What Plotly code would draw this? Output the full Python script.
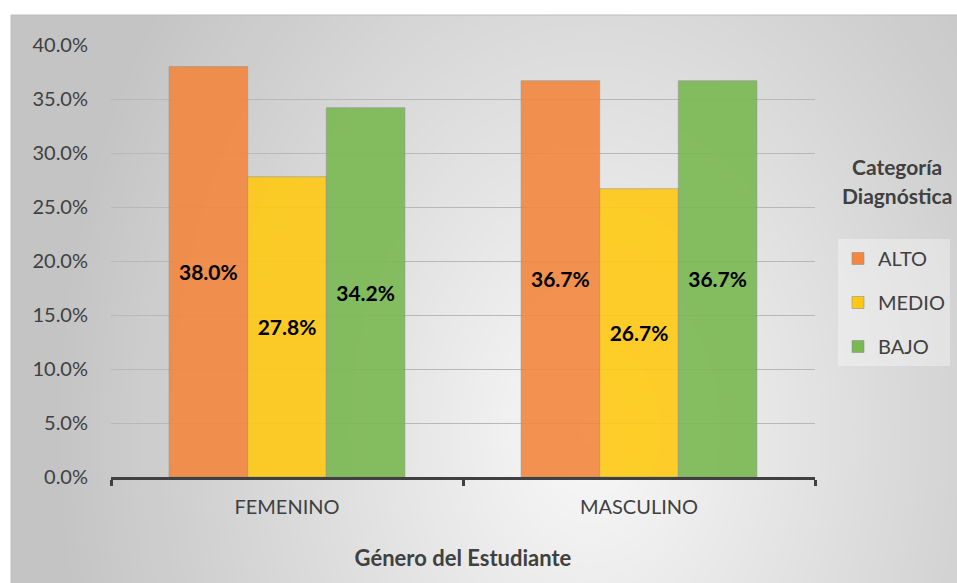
import plotly.graph_objects as go

# Data
genders = ["FEMENINO", "MASCULINO"]
categories = ["ALTO", "MEDIO", "BAJO"]
alto = [0.380, 0.367]
medio = [0.278, 0.267]
bajo = [0.342, 0.367]
y_ticks = [0.0, 0.05, 0.10, 0.15, 0.20, 0.25, 0.30, 0.35, 0.40]

series = [alto, medio, bajo]
colors = ["#F3873F", "#FFC913", "#7AB852"]

W, H = 957, 583
ML, MR, MT, MB = 111, 142, 45, 106
PW, PH = W - ML - MR, H - MT - MB

FONT = "Lato"
GRAY_TXT = "#404040"


def px_x(px):
    return (px - ML) / PW


def px_y(py):
    return (H - MB - py) / PH


fig = go.Figure()

for name, vals, col in zip(categories, series, colors):
    fig.add_trace(go.Bar(
        name=name,
        x=genders,
        y=vals,
        legendgroup=name,
        marker=dict(color=col, opacity=0.9,
                    line=dict(color="rgba(140,140,140,0.55)", width=1)),
        text=[f"{v:.1%}" for v in vals],
        textposition="inside",
        insidetextanchor="middle",
        textangle=0,
        constraintext="none",
        textfont=dict(family=FONT, size=21, color="black", weight="bold"),
        hoverinfo="skip",
    ))

# Chart background: soft radial gray-to-white gradient built from layered ellipses
shapes = []
x0f, x1f = px_x(11), px_x(W)
y0f, y1f = px_y(H), px_y(15)
base = 196
shapes.append(dict(type="rect", xref="paper", yref="paper", x0=x0f, x1=x1f, y0=y0f, y1=y1f,
                   fillcolor=f"rgb({base},{base},{base})", line=dict(width=0), layer="below"))
cx, cy = 590, 430
rmax, n = 640, 64
prev = float(base)
for i in range(n):
    r = rmax * (1 - i / n)
    target = base + 57 * (1 - r / rmax)
    a = (target - prev) / (255 - prev) if target > prev else 0
    prev = target
    if a <= 0:
        continue
    rx, ry = r, r * 1.35
    shapes.append(dict(type="circle", xref="paper", yref="paper",
                       x0=px_x(cx - rx), x1=px_x(cx + rx), y0=px_y(cy + ry), y1=px_y(cy - ry),
                       fillcolor=f"rgba(255,255,255,{a:.4f})", line=dict(width=0), layer="below"))
# white page margins outside the chart frame
shapes.append(dict(type="rect", xref="paper", yref="paper", x0=px_x(-5), x1=px_x(11), y0=px_y(H + 5), y1=px_y(-5),
                   fillcolor="white", line=dict(width=0), layer="below"))
shapes.append(dict(type="rect", xref="paper", yref="paper", x0=px_x(-5), x1=px_x(W + 5), y0=px_y(15), y1=px_y(-5),
                   fillcolor="white", line=dict(width=0), layer="below"))
# frame border
shapes.append(dict(type="rect", xref="paper", yref="paper", x0=px_x(11), x1=px_x(W + 3), y0=px_y(H + 3), y1=px_y(15),
                   fillcolor="rgba(0,0,0,0)", line=dict(width=1, color="#bdbdbd"), layer="below"))

annotations = [
    dict(text="Categoría", x=px_x(897), y=px_y(166), xref="paper", yref="paper",
         showarrow=False, xanchor="center", yanchor="middle",
         font=dict(family=FONT, size=21, color=GRAY_TXT, weight="bold")),
    dict(text="Diagnóstica", x=px_x(897), y=px_y(195), xref="paper", yref="paper",
         showarrow=False, xanchor="center", yanchor="middle",
         font=dict(family=FONT, size=21, color=GRAY_TXT, weight="bold")),
]

fig.update_layout(
    width=W, height=H,
    margin=dict(l=ML, r=MR, t=MT, b=MB, autoexpand=False),
    paper_bgcolor="white",
    plot_bgcolor="rgba(0,0,0,0)",
    barmode="group",
    bargap=0.33,
    bargroupgap=0,
    font=dict(family=FONT, size=20, color=GRAY_TXT),
    shapes=shapes,
    annotations=annotations,
    showlegend=True,
    legend=dict(
        x=px_x(838), y=px_y(239), xanchor="left", yanchor="top",
        bgcolor="rgba(255,255,255,0.35)",
        font=dict(family=FONT, size=20, color=GRAY_TXT),
        tracegroupgap=15,
        itemwidth=30,
        itemclick=False, itemdoubleclick=False,
    ),
    xaxis=dict(
        showline=True, linecolor="#404040", linewidth=3,
        ticks="outside", tickson="boundaries", ticklen=6, tickwidth=3, tickcolor="#404040",
        ticklabelstandoff=10,
        tickfont=dict(family=FONT, size=20, color=GRAY_TXT),
        title=dict(text="Género del Estudiante", standoff=34,
                   font=dict(family=FONT, size=22, color=GRAY_TXT, weight="bold")),
        showgrid=False, zeroline=False,
    ),
    yaxis=dict(
        range=[0, 0.4],
        tickvals=y_ticks,
        tickformat=".1%",
        showgrid=True, gridcolor="#b8b8b8", gridwidth=1,
        showline=False, zeroline=False, ticks="",
        ticklabelstandoff=22,
        tickfont=dict(family=FONT, size=20, color=GRAY_TXT),
    ),
)

fig.write_html("out.html")
